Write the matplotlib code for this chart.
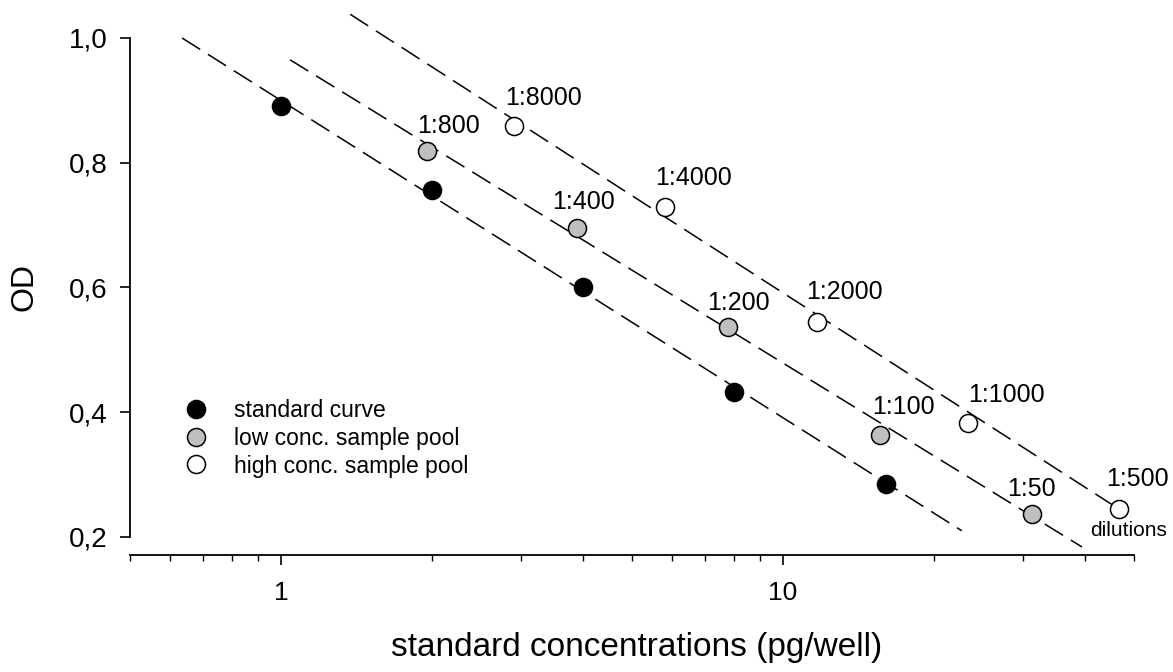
import matplotlib
matplotlib.use('Agg')
import matplotlib.pyplot as plt
from matplotlib.lines import Line2D
from matplotlib.ticker import FixedLocator, FixedFormatter, NullFormatter

plt.rcParams['font.family'] = ['Liberation Sans', 'DejaVu Sans']

# ---------------- data ----------------
std_x = [1, 2, 4, 8, 16]
std_y = [0.891, 0.756, 0.601, 0.432, 0.285]

low_x = [1.95, 3.89, 7.78, 15.6, 31.3]
low_y = [0.819, 0.695, 0.537, 0.364, 0.237]
low_labels = ['1:800', '1:400', '1:200', '1:100', '1:50']

high_x = [2.91, 5.83, 11.66, 23.4, 46.6]
high_y = [0.859, 0.729, 0.545, 0.383, 0.245]
high_labels = ['1:8000', '1:4000', '1:2000', '1:1000', '1:500']

std_fit_x = [0.635, 22.7]
std_fit_y = [1.0, 0.210]
low_fit_x = [1.042, 39.4]
low_fit_y = [0.965, 0.184]
high_fit_x = [1.373, 45.6]
high_fit_y = [1.038, 0.250]

y_ticks = [0.2, 0.4, 0.6, 0.8, 1.0]
y_tick_labels = ['0,2', '0,4', '0,6', '0,8', '1,0']
x_major = [1, 10]
x_major_labels = ['1', '10']
x_minor = [0.5, 0.6, 0.7, 0.8, 0.9, 2, 3, 4, 5, 6, 7, 8, 9, 20, 30, 40, 50]

legend_labels = ['standard curve', 'low conc. sample pool', 'high conc. sample pool']

# label offsets (pixels, y up)
low_offsets = [(22, 25), (6, 26), (10, 24), (23, 28), (0, 25)]
high_offsets = [(30, 28), (28, 29), (28, 30), (38, 28), (19, 30)]

# ---------------- figure ----------------
fig = plt.figure(figsize=(11.73, 6.72), dpi=100)
ax = fig.add_axes([130 / 1173, 117 / 672, 1040 / 1173, 550 / 672])
ax.set_xscale('log')
ax.set_xlim(0.5, 59.0)
ax.set_ylim(0.1711, 1.0529)

dash = (0, (14, 6))
for fx, fy in [(std_fit_x, std_fit_y), (low_fit_x, low_fit_y), (high_fit_x, high_fit_y)]:
    ax.plot(fx, fy, color='black', lw=1.1, linestyle=dash, zorder=2)

ms = 13
mew = 1.1
ax.plot(std_x, std_y, 'o', ms=ms, mfc='black', mec='black', mew=mew, zorder=3)
ax.plot(low_x, low_y, 'o', ms=ms, mfc='#bfbfbf', mec='black', mew=mew, zorder=3)
ax.plot(high_x, high_y, 'o', ms=ms, mfc='white', mec='black', mew=mew, zorder=3)

for x, y, lab, off in zip(low_x, low_y, low_labels, low_offsets):
    ax.annotate(lab, (x, y), xytext=off, textcoords='offset pixels',
                ha='center', va='center', fontsize=18)
for x, y, lab, off in zip(high_x, high_y, high_labels, high_offsets):
    ax.annotate(lab, (x, y), xytext=off, textcoords='offset pixels',
                ha='center', va='center', fontsize=18)
ax.annotate('dilutions', (high_x[-1], high_y[-1]), xytext=(10, -22),
            textcoords='offset pixels', ha='center', va='center', fontsize=15)

# spines
for s in ['top', 'right']:
    ax.spines[s].set_visible(False)
ax.spines['left'].set_bounds(0.2, 1.0)
ax.spines['bottom'].set_bounds(0.5, 50)
ax.spines['left'].set_linewidth(1.3)
ax.spines['bottom'].set_linewidth(1.3)

ax.yaxis.set_major_locator(FixedLocator(y_ticks))
ax.yaxis.set_major_formatter(FixedFormatter(y_tick_labels))
ax.yaxis.set_minor_locator(FixedLocator([]))
ax.xaxis.set_major_locator(FixedLocator(x_major))
ax.xaxis.set_major_formatter(FixedFormatter(x_major_labels))
ax.xaxis.set_minor_locator(FixedLocator(x_minor))
ax.xaxis.set_minor_formatter(NullFormatter())

ax.tick_params(axis='y', which='major', direction='out', length=7, width=1.2,
               labelsize=20, pad=9)
ax.tick_params(axis='x', which='major', direction='out', length=7, width=1.2,
               labelsize=19, pad=12)
ax.tick_params(axis='x', which='minor', direction='out', length=4, width=1.0)

ax.set_xlabel('standard concentrations (pg/well)', fontsize=24)
ax.xaxis.set_label_coords(0.4875, -0.140)
ax.set_ylabel('OD', fontsize=23)
ax.yaxis.set_label_coords(-0.087, 0.487)

handles = [
    Line2D([], [], marker='o', ls='none', ms=ms, mfc='black', mec='black', mew=mew),
    Line2D([], [], marker='o', ls='none', ms=ms, mfc='#bfbfbf', mec='black', mew=mew),
    Line2D([], [], marker='o', ls='none', ms=ms, mfc='white', mec='black', mew=mew),
]
ax.legend(handles, legend_labels, loc='upper left', bbox_to_anchor=(0.052, 0.283),
          frameon=False, fontsize=16.5, borderpad=0, borderaxespad=0,
          handlelength=1.0, handletextpad=1.2, labelspacing=0.2)

fig.savefig('out.png', dpi=100)
